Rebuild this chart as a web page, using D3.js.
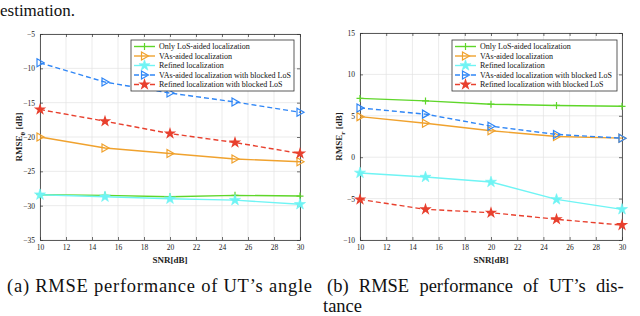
<!DOCTYPE html>
<html>
<head>
<meta charset="utf-8">
<script src="https://cdn.jsdelivr.net/npm/d3@7"></script>
<style>
  body { margin: 0; background: #fff; }
  text { font-family: "Liberation Serif", "DejaVu Serif", serif; }
</style>
</head>
<body>
<div id="chart"></div>
<script>
// SNR points shared by both panels
var snr = [10, 15, 20, 25, 30];
var xTicks = [10, 12, 14, 16, 18, 20, 22, 24, 26, 28, 30];

// (a) angle RMSE [dB]
var angleLoS = [-28.4, -28.5, -28.7, -28.5, -28.6];
var angleVA = [-20.0, -21.6, -22.4, -23.2, -23.6];
var angleRefined = [-28.4, -28.7, -29.0, -29.2, -29.8];
var angleVABlocked = [-9.2, -12.0, -13.6, -14.9, -16.4];
var angleRefinedBlocked = [-16.0, -17.7, -19.5, -20.8, -22.4];
var angleYTicks = [-35, -30, -25, -20, -15, -10, -5];

// (b) distance RMSE [dB]
var distLoS = [7.1, 6.8, 6.4, 6.25, 6.15];
var distVA = [4.9, 4.1, 3.2, 2.5, 2.3];
var distRefined = [-1.9, -2.4, -3.0, -5.1, -6.3];
var distVABlocked = [5.95, 5.2, 3.75, 2.75, 2.3];
var distRefinedBlocked = [-5.1, -6.3, -6.7, -7.5, -8.2];
var distYTicks = [-10, -5, 0, 5, 10, 15];

var legendNames = [
    "Only LoS-aided localization",
    "VAs-aided localization",
    "Refined localization",
    "VAs-aided localization with blocked LoS",
    "Refined localization with blocked LoS"
];

// line styles for the five series (same order as legend)
var styles = [
    { color: "#5fd62a", dash: null, marker: "plus" },
    { color: "#f0a22e", dash: null, marker: "tri" },
    { color: "#6ff4f4", dash: null, marker: "star6" },
    { color: "#2f86f6", dash: "5,3", marker: "tri" },
    { color: "#e8402e", dash: "5,3", marker: "star" }
];

var svg = d3.select("#chart")
    .append("svg")
    .attr("width", 640)
    .attr("height", 316);

// line of body text above the figure
svg.append("text")
    .attr("x", 0)
    .attr("y", 15.5)
    .attr("font-size", 17)
    .attr("fill", "#111")
    .text("estimation.");

function drawMarker(g, type, x, y, color) {
    if (type === "plus") {
        g.append("path")
            .attr("d", `M${x - 3.5},${y}H${x + 3.5}M${x},${y - 3.5}V${y + 3.5}`)
            .attr("stroke", color).attr("stroke-width", 1.2).attr("fill", "none");
    } else if (type === "tri") {
        g.append("path")
            .attr("d", `M${x - 3},${y - 4}L${x + 4},${y}L${x - 3},${y + 4}Z`)
            .attr("stroke", color).attr("stroke-width", 1.2).attr("fill", "none");
    } else if (type === "star6") {
        g.append("path")
            .attr("d", d3.symbol().type(d3.symbolStar).size(38)())
            .attr("transform", `translate(${x},${y})`)
            .attr("fill", color).attr("stroke", color).attr("stroke-width", 0.6);
    } else {
        g.append("path")
            .attr("d", d3.symbol().type(d3.symbolStar).size(48)())
            .attr("transform", `translate(${x},${y})`)
            .attr("fill", color);
    }
}

function drawPanel(opts) {
    var x = d3.scaleLinear().domain([10, 30]).range([opts.left, opts.right]);
    var y = d3.scaleLinear().domain(opts.yDomain).range([opts.bottom, opts.top]);
    var g = svg.append("g");

    // grid
    g.selectAll(".vgrid").data(xTicks).enter().append("line")
        .attr("x1", d => x(d)).attr("x2", d => x(d))
        .attr("y1", opts.top).attr("y2", opts.bottom)
        .attr("stroke", "#e3e3e3").attr("stroke-width", 0.7);
    g.selectAll(".hgrid").data(opts.yTicks).enter().append("line")
        .attr("x1", opts.left).attr("x2", opts.right)
        .attr("y1", d => y(d)).attr("y2", d => y(d))
        .attr("stroke", "#e3e3e3").attr("stroke-width", 0.7);

    // axes with inward ticks
    var bottomAxis = d3.axisBottom(x).tickValues(xTicks).tickSizeInner(-3).tickSizeOuter(0).tickPadding(5);
    var topAxis = d3.axisTop(x).tickValues(xTicks).tickSizeInner(-3).tickSizeOuter(0).tickFormat("");
    var leftAxis = d3.axisLeft(y).tickValues(opts.yTicks).tickSizeInner(-3).tickSizeOuter(0).tickPadding(5);
    var rightAxis = d3.axisRight(y).tickValues(opts.yTicks).tickSizeInner(-3).tickSizeOuter(0).tickFormat("");

    var axes = [
        g.append("g").attr("transform", `translate(0,${opts.bottom})`).call(bottomAxis),
        g.append("g").attr("transform", `translate(0,${opts.top})`).call(topAxis),
        g.append("g").attr("transform", `translate(${opts.left},0)`).call(leftAxis),
        g.append("g").attr("transform", `translate(${opts.right},0)`).call(rightAxis)
    ];
    axes.forEach(function (a) {
        a.select(".domain").attr("stroke", "#333").attr("stroke-width", 0.8);
        a.selectAll(".tick line").attr("stroke", "#333").attr("stroke-width", 0.7);
        a.selectAll(".tick text")
            .attr("font-family", "Liberation Serif, serif")
            .attr("font-size", 7.5)
            .attr("fill", "#222");
    });

    // series
    opts.series.forEach(function (vals, i) {
        var st = styles[i];
        var line = d3.line().x((d, k) => x(snr[k])).y(d => y(d));
        g.append("path")
            .datum(vals)
            .attr("d", line)
            .attr("fill", "none")
            .attr("stroke", st.color)
            .attr("stroke-width", 1.4)
            .attr("stroke-dasharray", st.dash);
        vals.forEach(function (v, k) {
            drawMarker(g, st.marker, x(snr[k]), y(v), st.color);
        });
    });

    // legend
    var lg = g.append("g");
    lg.append("rect")
        .attr("x", opts.legend.x).attr("y", opts.legend.y)
        .attr("width", opts.legend.w).attr("height", 51)
        .attr("fill", "#fff").attr("stroke", "#333").attr("stroke-width", 0.8);
    legendNames.forEach(function (name, i) {
        var st = styles[i];
        var ly = opts.legend.y + 6.5 + i * 9.5;
        var lx = opts.legend.x + 3;
        lg.append("line")
            .attr("x1", lx).attr("x2", lx + 21)
            .attr("y1", ly).attr("y2", ly)
            .attr("stroke", st.color).attr("stroke-width", 1.4)
            .attr("stroke-dasharray", st.dash);
        drawMarker(lg, st.marker, lx + 10.5, ly, st.color);
        lg.append("text")
            .attr("x", lx + 25).attr("y", ly + 2.7)
            .attr("font-size", 8).attr("fill", "#111")
            .text(name);
    });

    // axis titles
    g.append("text")
        .attr("x", (opts.left + opts.right) / 2)
        .attr("y", opts.bottom + 23)
        .attr("text-anchor", "middle")
        .attr("font-size", 9).attr("font-weight", "bold").attr("fill", "#222")
        .text("SNR[dB]");

    var yl = g.append("text")
        .attr("transform", `translate(${opts.left - 18},${(opts.top + opts.bottom) / 2}) rotate(-90)`)
        .attr("text-anchor", "middle")
        .attr("font-size", 9).attr("font-weight", "bold").attr("fill", "#222");
    yl.append("tspan").text("RMSE");
    yl.append("tspan").attr("dy", 2.5).attr("font-size", 7).text(opts.sub);
    yl.append("tspan").attr("dy", -2.5).text(" [dB]");
}

drawPanel({
    left: 40, right: 300, top: 34, bottom: 240,
    yDomain: [-35, -5], yTicks: angleYTicks, sub: "θ",
    series: [angleLoS, angleVA, angleRefined, angleVABlocked, angleRefinedBlocked],
    legend: { x: 131, y: 40, w: 163 }
});

drawPanel({
    left: 360, right: 622, top: 33, bottom: 240,
    yDomain: [-10, 15], yTicks: distYTicks, sub: "r",
    series: [distLoS, distVA, distRefined, distVABlocked, distRefinedBlocked],
    legend: { x: 452, y: 40, w: 165 }
});

// sub-captions
svg.append("text")
    .attr("x", 7).attr("y", 291.5)
    .attr("font-size", 18.5).attr("fill", "#111")
    .attr("textLength", 305).attr("lengthAdjust", "spacing")
    .text("(a) RMSE performance of UT’s angle");
// justified line: wider word gaps
svg.append("text")
    .attr("x", 327).attr("y", 291.5)
    .attr("font-size", 18.5).attr("fill", "#111")
    .attr("word-spacing", 5.6)
    .text("(b) RMSE performance of UT’s dis-");
svg.append("text")
    .attr("x", 323).attr("y", 311.5)
    .attr("font-size", 18.5).attr("fill", "#111")
    .text("tance");
</script>
</body>
</html>
